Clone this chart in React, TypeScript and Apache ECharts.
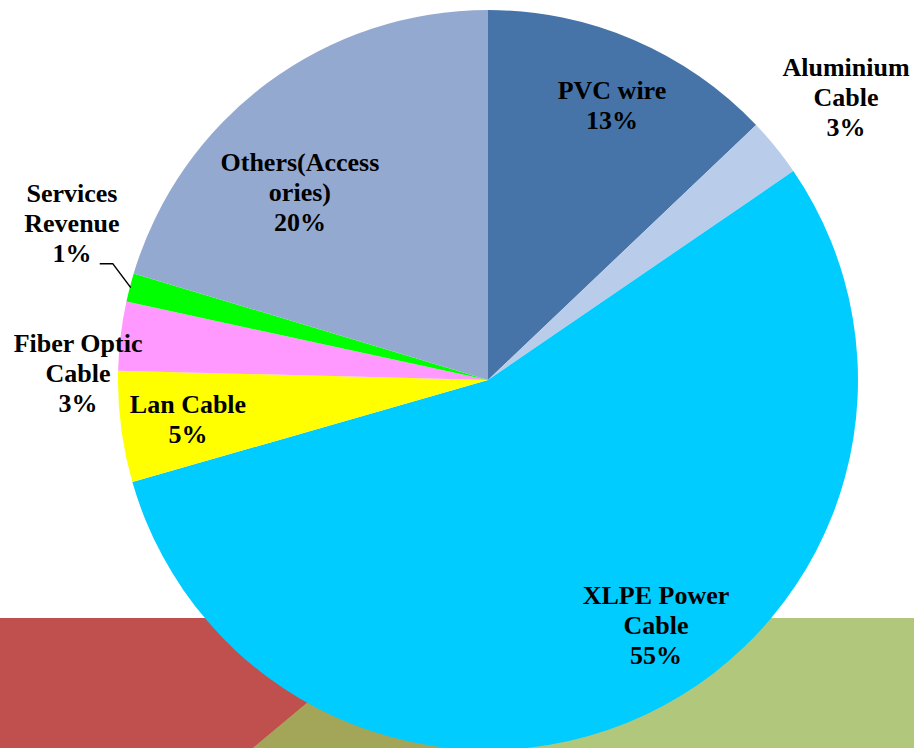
import React, { useEffect, useRef } from "react";
import * as echarts from "echarts";

// Category names (wrapped as shown on the chart)
const categories = [
  "PVC wire",
  "Aluminium\nCable",
  "XLPE Power\nCable",
  "Lan Cable",
  "Fiber Optic\nCable",
  "Services\nRevenue",
  "Others(Access\nories)",
];
// Share of revenue (%)
const shares = [12.9, 2.55, 55.1, 4.85, 3.0, 1.25, 20.35];

const sliceColors = ["#4674a9", "#b9cdeb", "#00ccff", "#ffff00", "#ff99ff", "#00ff00", "#94a9d0"];
// label placement: radius factor and angular shift (deg) from slice middle
const labelRadius = [0.815, 1.232, 0.805, 0.818, 1.108, 1.201, 0.717];
const labelTurn = [1.05, 0.74, -9.13, -0.3, -6.0, 6.07, -8.52];

const CX = 488;
const CY = 380;
const R = 370;

const total = shares.reduce((a, b) => a + b, 0);
const midAngles: number[] = [];
{
  let acc = 0;
  shares.forEach((v) => {
    midAngles.push(((acc + v / 2) / total) * 360);
    acc += v;
  });
}

const polar = (deg: number, r: number) => {
  const a = (deg * Math.PI) / 180;
  return [CX + r * Math.sin(a), CY - r * Math.cos(a)];
};

export default function App() {
  const ref = useRef<HTMLDivElement>(null);
  useEffect(() => {
    if (!ref.current) return;
    const chart = echarts.init(ref.current, undefined, { renderer: "svg" });
    const svcIdx = 5;
    const lineEnd = polar(midAngles[svcIdx], R - 1);
    const corner = [lineEnd[0] - 18, lineEnd[1] - 24];
    const lineStart = [corner[0] - 13, corner[1]];
    chart.setOption({
      animation: false,
      backgroundColor: "#ffffff",
      graphic: {
        elements: [
          { type: "rect", z: 0, shape: { x: 0, y: 618, width: 500, height: 130 }, style: { fill: "#c0504e" } },
          {
            type: "polygon",
            z: 0,
            shape: { points: [[409, 618], [914, 618], [914, 748], [253, 748]] },
            style: { fill: "#b1c87c" },
          },
          {
            type: "polygon",
            z: 0,
            shape: { points: [[409, 618], [500, 618], [500, 748], [253, 748]] },
            style: { fill: "#a3a559" },
          },
          {
            type: "polyline",
            z: 100,
            shape: { points: [lineStart, corner, lineEnd] },
            style: { stroke: "#000000", lineWidth: 1.5, fill: null },
          },
        ],
      },
      series: [
        {
          type: "pie",
          center: [CX, CY],
          radius: R,
          startAngle: 90,
          clockwise: true,
          silent: true,
          avoidLabelOverlap: false,
          data: categories.map((name, i) => ({
            name,
            value: shares[i],
            itemStyle: { color: sliceColors[i] },
          })),
          itemStyle: { borderWidth: 0 },
          label: {
            show: true,
            position: "inside",
            color: "#000000",
            fontFamily: "Liberation Serif",
            fontWeight: "bold",
            fontSize: 26,
            lineHeight: 30,
            align: "center",
            formatter: (p: any) => `${p.name}\n${Math.round(p.percent)}%`,
          },
          labelLine: { show: false },
          labelLayout: (params: any) => {
            const i = params.dataIndex;
            const [x, y] = polar(midAngles[i] + labelTurn[i], R * labelRadius[i]);
            return { x, y, align: "center", verticalAlign: "middle" };
          },
        },
      ],
    });
    return () => chart.dispose();
  }, []);
  return (
    <div
      ref={ref}
      style={{ position: "fixed", left: 0, top: 0, width: 914, height: 748, background: "#fff" }}
    />
  );
}
